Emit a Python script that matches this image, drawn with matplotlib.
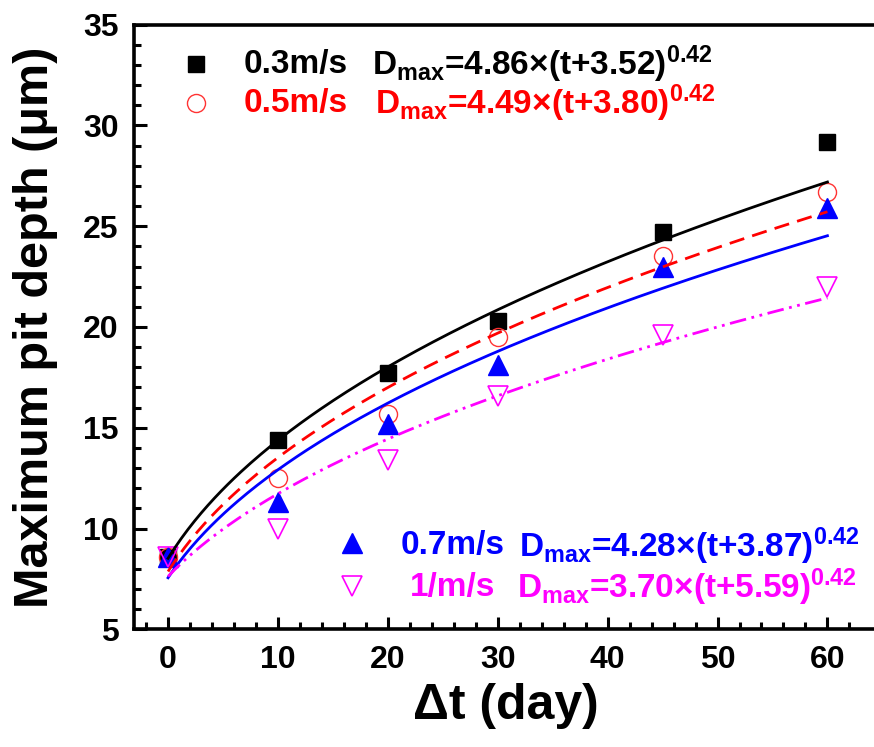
import matplotlib
matplotlib.use('Agg')
import matplotlib.pyplot as plt
import numpy as np

plt.rcParams['font.family'] = ['Liberation Sans', 'DejaVu Sans']
plt.rcParams['font.weight'] = 'bold'
plt.rcParams['mathtext.fontset'] = 'custom'
plt.rcParams['mathtext.rm'] = 'Liberation Sans:bold'
plt.rcParams['mathtext.it'] = 'Liberation Sans:bold'
plt.rcParams['mathtext.bf'] = 'Liberation Sans:bold'
plt.rcParams['mathtext.default'] = 'rm'

# measured data
days = [0, 10, 20, 30, 45, 60]
d_03 = [8.6, 14.4, 17.7, 20.3, 24.7, 29.2]
d_05 = [8.6, 12.5, 15.7, 19.5, 23.5, 26.7]
d_07 = [8.6, 11.3, 15.2, 18.1, 23.0, 25.9]
d_10 = [8.6, 10.0, 13.4, 16.6, 19.6, 22.0]

# fit curves D = a*(t+b)^p (as drawn)
fit_a = [4.74, 4.49, 4.28, 3.70]
fit_b = [4.04, 3.80, 3.87, 5.59]
fit_p = [0.42, 0.42, 0.42, 0.42]

speeds = ['0.3m/s', '0.5m/s', '0.7m/s', '1/m/s']
eqs = [r'$D_{max}$=4.86×(t+3.52)$^{0.42}$',
       r'$D_{max}$=4.49×(t+3.80)$^{0.42}$',
       r'$D_{max}$=4.28×(t+3.87)$^{0.42}$',
       r'$D_{max}$=3.70×(t+5.59)$^{0.42}$']

colors = ['black', 'red', 'blue', 'magenta']

fig = plt.figure(figsize=(8.74, 7.47), dpi=100)
ax = fig.add_axes([0.1533, 0.1576, 0.85, 0.8093])

# markers
ax.plot(days, d_03, 's', color='black', ms=11.5, ls='none', zorder=3)
ax.plot(days, d_05, 'o', mfc='none', mec='#ff3333', mew=1.0, ms=13, ls='none', zorder=3)
ax.plot(days, d_07, '^', color='blue', ms=14, ls='none', zorder=3)
ax.plot(days, d_10, 'v', mfc='none', mec='magenta', mew=1.2, ms=14, ls='none', zorder=3)

# fit lines
t = np.linspace(0, 60, 200)
styles = ['-', (0, (5.5, 3)), '-', (0, (6, 2, 1, 2, 1, 2))]
for a, b, p, c, s in zip(fit_a, fit_b, fit_p, colors, styles):
    ax.plot(t, a * (t + b) ** p, color=c, ls=s, lw=2.0, zorder=4)

ax.set_xlim(-3.1, 64.5)
ax.set_ylim(5, 35)
ax.set_xticks([0, 10, 20, 30, 40, 50, 60])
ax.set_xticks(np.arange(-2, 64, 2), minor=True)
ax.set_yticks([5, 10, 15, 20, 25, 30, 35])
ax.set_yticks(np.arange(5, 36, 1), minor=True)
ax.tick_params(which='both', direction='in', width=2.2, labelsize=23, top=False, right=False)
ax.tick_params(which='major', length=9, pad=11)
ax.tick_params(which='minor', length=5)
for sp in ax.spines.values():
    sp.set_linewidth(2.6)

ax.set_xlabel('Δt (day)', fontsize=36, fontweight='bold', labelpad=6)
ax.set_ylabel('Maximum pit depth (μm)', fontsize=35, fontweight='bold', labelpad=18)

# legend-like annotations
tx = ax.transAxes
ax.plot([0.0837], [0.935], 's', color='black', ms=11.5, transform=tx)
ax.plot([0.0837], [0.8705], 'o', mfc='none', mec='#ff3333', mew=1.0, ms=13, transform=tx)
ax.plot([0.294], [0.142], '^', color='blue', ms=14, transform=tx)
ax.plot([0.294], [0.071], 'v', mfc='none', mec='magenta', mew=1.2, ms=14, transform=tx)

fs = 24
ax.text(0.147, 0.935, speeds[0], color='black', fontsize=fs, va='center', transform=tx)
ax.text(0.321, 0.935, eqs[0], color='black', fontsize=fs, va='center', transform=tx)
ax.text(0.147, 0.8705, speeds[1], color='red', fontsize=fs, va='center', transform=tx)
ax.text(0.325, 0.8705, eqs[1], color='red', fontsize=fs, va='center', transform=tx)
ax.text(0.359, 0.138, speeds[2], color='blue', fontsize=fs, va='center', transform=tx)
ax.text(0.518, 0.138, eqs[2], color='blue', fontsize=fs, va='center', transform=tx)
ax.text(0.372, 0.069, speeds[3], color='magenta', fontsize=fs, va='center', transform=tx)
ax.text(0.515, 0.069, eqs[3], color='magenta', fontsize=fs, va='center', transform=tx)

fig.savefig('out.png', dpi=100)
